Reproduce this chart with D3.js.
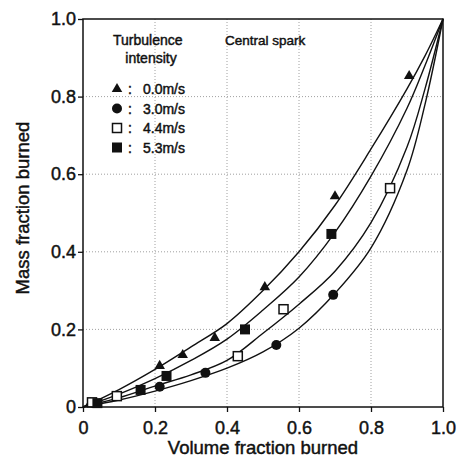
<!DOCTYPE html>
<meta charset="utf-8">
<style>
  body { margin: 0; background: #fff; }
  text { font-family: "Liberation Sans", Arial, sans-serif; fill: #111; stroke: #111; stroke-width: 0.45px; }
</style>
<div id="my_dataviz"></div>
<body>
  <script src="https://d3js.org/d3.v7.min.js"></script>
  <script>
    // tick values
    var xTicks = [0, 0.2, 0.4, 0.6, 0.8, 1.0];
    var yTicks = [0, 0.2, 0.4, 0.6, 0.8, 1.0];
    var tickLabels = ["0", "0.2", "0.4", "0.6", "0.8", "1.0"];

    // legend entries
    var seriesNames = ["0.0m/s", "3.0m/s", "4.4m/s", "5.3m/s"];

    // measured points [volume fraction, mass fraction]
    var pts00 = [[0.02, 0.01], [0.213, 0.106], [0.277, 0.134], [0.366, 0.178], [0.505, 0.309], [0.70, 0.543], [0.906, 0.853]];
    var pts30 = [[0.03, 0.01], [0.213, 0.052], [0.34, 0.088], [0.537, 0.16], [0.695, 0.289]];
    var pts44 = [[0.025, 0.012], [0.094, 0.028], [0.43, 0.131], [0.557, 0.252], [0.853, 0.564]];
    var pts53 = [[0.04, 0.01], [0.16, 0.044], [0.232, 0.08], [0.45, 0.2], [0.69, 0.446]];

    // fitted curves
    var curveV = [0, 0.1, 0.2, 0.3, 0.4, 0.5, 0.6, 0.7, 0.8, 0.9, 0.95, 1.0];
    var curve00 = [0, 0.045, 0.097, 0.155, 0.215, 0.30, 0.40, 0.52, 0.665, 0.82, 0.905, 1.0];
    var curve53 = [0, 0.033, 0.073, 0.12, 0.175, 0.25, 0.335, 0.45, 0.595, 0.77, 0.88, 1.0];
    var curve44 = [0, 0.024, 0.054, 0.083, 0.12, 0.19, 0.265, 0.35, 0.475, 0.67, 0.82, 1.0];
    var curve30 = [0, 0.018, 0.041, 0.068, 0.1, 0.142, 0.203, 0.293, 0.41, 0.61, 0.78, 1.0];

    var margin = { top: 19, right: 14, bottom: 54, left: 83 },
      width = 457 - margin.left - margin.right,
      height = 461 - margin.top - margin.bottom;

    var svg = d3.select("#my_dataviz")
      .append("svg")
      .attr("width", 457)
      .attr("height", 461)
      .append("g")
      .attr("transform", "translate(" + margin.left + "," + margin.top + ")");

    var x = d3.scaleLinear().domain([0, 1]).range([0, width]);
    var y = d3.scaleLinear().domain([0, 1]).range([height, 0]);

    // dotted grid
    svg.append("g").selectAll("line")
      .data(xTicks.slice(1, -1))
      .enter().append("line")
      .attr("x1", function (d) { return x(d); })
      .attr("x2", function (d) { return x(d); })
      .attr("y1", 0).attr("y2", height)
      .style("stroke", "#888").style("stroke-width", 0.8)
      .style("stroke-dasharray", "1,2");
    svg.append("g").selectAll("line")
      .data(yTicks.slice(1, -1))
      .enter().append("line")
      .attr("y1", function (d) { return y(d); })
      .attr("y2", function (d) { return y(d); })
      .attr("x1", 0).attr("x2", width)
      .style("stroke", "#888").style("stroke-width", 0.8)
      .style("stroke-dasharray", "1,2");

    // axes
    var xAxis = svg.append("g")
      .attr("transform", "translate(0," + height + ")")
      .call(d3.axisBottom(x).tickValues(xTicks).tickSize(5).tickPadding(6)
        .tickFormat(function (d, i) { return tickLabels[i]; }));
    var yAxis = svg.append("g")
      .call(d3.axisLeft(y).tickValues(yTicks).tickSize(5).tickPadding(2)
        .tickFormat(function (d, i) { return tickLabels[i]; }));
    [xAxis, yAxis].forEach(function (a) {
      a.select(".domain").remove();
      a.selectAll("line").style("stroke", "#111").style("stroke-width", 1.3);
      a.selectAll("text").style("font-size", "18px").style("fill", "#111");
    });
    xAxis.selectAll("text").attr("dy", "0.9em");

    // frame
    svg.append("rect")
      .attr("width", width).attr("height", height)
      .style("fill", "none").style("stroke", "#111").style("stroke-width", 1.5);

    // curves
    var line = d3.line()
      .x(function (d) { return x(d[0]); })
      .y(function (d) { return y(d[1]); })
      .curve(d3.curveCatmullRom.alpha(0.5));
    [curve00, curve53, curve44, curve30].forEach(function (c) {
      svg.append("path")
        .datum(curveV.map(function (v, i) { return [v, c[i]]; }))
        .attr("d", line)
        .style("fill", "none").style("stroke", "#111").style("stroke-width", 1.4);
    });

    // markers
    var tri = d3.symbol().type(d3.symbolTriangle).size(48);
    function drawMarker(g, kind) {
      if (kind === 0) {
        g.append("path").attr("d", tri).style("fill", "#111");
      } else if (kind === 1) {
        g.append("circle").attr("r", 5).style("fill", "#111");
      } else if (kind === 2) {
        g.append("rect").attr("x", -4.5).attr("y", -4.5).attr("width", 9).attr("height", 9)
          .style("fill", "#fff").style("stroke", "#111").style("stroke-width", 1.5);
      } else {
        g.append("rect").attr("x", -5).attr("y", -5).attr("width", 10).attr("height", 10)
          .style("fill", "#111");
      }
    }
    [pts00, pts30, pts44, pts53].forEach(function (pts, k) {
      svg.append("g").selectAll("g")
        .data(pts)
        .enter().append("g")
        .attr("transform", function (d) { return "translate(" + x(d[0]) + "," + y(d[1]) + ")"; })
        .each(function () { drawMarker(d3.select(this), k); });
    });

    // legend
    svg.append("text").attr("x", 30).attr("y", 26)
      .style("font-size", "14px").text("Turbulence");
    svg.append("text").attr("x", 68).attr("y", 44).style("text-anchor", "middle")
      .style("font-size", "14px").text("intensity");
    svg.append("text").attr("x", 142).attr("y", 26)
      .style("font-size", "13.5px").text("Central spark");
    seriesNames.forEach(function (name, k) {
      var yy = 70 + k * 19.5;
      drawMarker(svg.append("g").attr("transform", "translate(34," + yy + ")"), k);
      svg.append("text").attr("x", 45).attr("y", yy + 5)
        .style("font-size", "14px").text(":");
      svg.append("text").attr("x", 60).attr("y", yy + 5)
        .style("font-size", "14px").text(name);
    });

    // axis titles
    svg.append("text")
      .attr("x", width / 2).attr("y", height + 47)
      .style("text-anchor", "middle").style("font-size", "18.5px")
      .text("Volume fraction burned");
    svg.append("text")
      .attr("transform", "rotate(-90)")
      .attr("x", -height / 2 + 5).attr("y", -54)
      .style("text-anchor", "middle").style("font-size", "18.5px")
      .text("Mass fraction burned");
  </script>
</body>
